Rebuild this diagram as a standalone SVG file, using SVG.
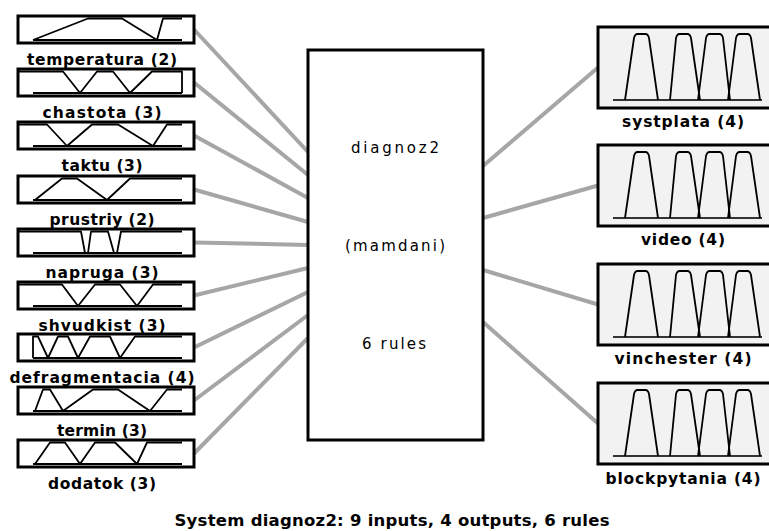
<svg xmlns="http://www.w3.org/2000/svg" xmlns:xlink="http://www.w3.org/1999/xlink" width="769" height="531" viewBox="0 0 769 531">
  <style>
    .box { fill: #ffffff; stroke: #000000; stroke-width: 3; }
    .obox { fill: #f2f2f2; stroke: #000000; stroke-width: 3; }
    .mf { fill: none; stroke: #000000; stroke-width: 1.8; stroke-linejoin: round; }
    .base { fill: none; stroke: #333333; stroke-width: 1.8; }
    .wire { stroke: #a6a6a6; stroke-width: 4; fill: none; }
    .lbl { font-family: "DejaVu Sans", "Liberation Sans", sans-serif; font-size: 15.5px; font-weight: bold; fill: #000000; text-anchor: middle; }
    .core { font-family: "DejaVu Sans", "Liberation Sans", sans-serif; font-size: 15px; fill: #000000; text-anchor: middle; }
    .cap { font-family: "DejaVu Sans", "Liberation Sans", sans-serif; font-size: 16.5px; font-weight: bold; fill: #000000; text-anchor: middle; }
  </style>
  <defs>
    <!-- four-term output membership plot, drawn relative to the box top -->
    <g id="outMF">
      <path class="base" d="M613,73 L762,73"/>
      <path class="mf" d="M625,73 L634,11 Q635,7 637.5,7 L645.5,7 Q648,7 649,11 L658,73"/>
      <path class="mf" d="M670,73 L676,11 Q677,7 679.5,7 L687.5,7 Q690,7 691,11 L700,73"/>
      <path class="mf" d="M698,73 L706,11 Q707,7 709.5,7 L719.5,7 Q722,7 723,11 L730,73"/>
      <path class="mf" d="M728,73 L736,11 Q737,7 739.5,7 L747.5,7 Q750,7 751,11 L760,73"/>
    </g>
  </defs>

  <rect x="0" y="0" width="769" height="531" fill="#ffffff"/>

  <!-- connectors -->
  <g id="connectors">
    <line class="wire" x1="194" y1="29.5" x2="308" y2="152"/>
    <line class="wire" x1="194" y1="82.5" x2="308" y2="175"/>
    <line class="wire" x1="194" y1="135.5" x2="308" y2="198"/>
    <line class="wire" x1="194" y1="189.5" x2="308" y2="222"/>
    <line class="wire" x1="194" y1="242.5" x2="308" y2="245"/>
    <line class="wire" x1="194" y1="295.5" x2="308" y2="268"/>
    <line class="wire" x1="194" y1="347.5" x2="308" y2="292"/>
    <line class="wire" x1="194" y1="400.5" x2="308" y2="315"/>
    <line class="wire" x1="194" y1="453.5" x2="308" y2="338"/>
    <line class="wire" x1="483" y1="166" x2="598" y2="67.5"/>
    <line class="wire" x1="483" y1="218" x2="598" y2="185.5"/>
    <line class="wire" x1="483" y1="270" x2="598" y2="304.5"/>
    <line class="wire" x1="483" y1="322" x2="598" y2="423.5"/>
  </g>

  <!-- inputs -->
  <g id="in-temperatura" transform="translate(0,16)">
    <rect class="box" x="18" y="0" width="176" height="27"/>
    <path class="mf" d="M33,24 L182,24 M33,24 L88,2.5 L122,2.5 L157,24 M157,24 L163,2.5 L182,2.5"/>
    <text class="lbl" x="102" y="49" textLength="150" lengthAdjust="spacing">temperatura (2)</text>
  </g>
  <g id="in-chastota" transform="translate(0,69)">
    <rect class="box" x="18" y="0" width="176" height="27"/>
    <path class="mf" d="M33,24 L182,24 M19,2.5 L63,2.5 L80,24 M80,24 L97,2.5 L113,2.5 L130,24 M130,24 L152,2.5 L182,2.5 L182,24"/>
    <text class="lbl" x="102" y="49" textLength="119" lengthAdjust="spacing">chastota (3)</text>
  </g>
  <g id="in-taktu" transform="translate(0,122)">
    <rect class="box" x="18" y="0" width="176" height="27"/>
    <path class="mf" d="M33,24 L182,24 M19,2.5 L47,2.5 L67,24 M67,24 L92,2.5 L118,2.5 L153,24 M153,24 L167,2.5 L182,2.5"/>
    <text class="lbl" x="102" y="49" textLength="81" lengthAdjust="spacing">taktu (3)</text>
  </g>
  <g id="in-prustriy" transform="translate(0,176)">
    <rect class="box" x="18" y="0" width="176" height="27"/>
    <path class="mf" d="M33,24 L182,24 M35,24 L62,2.5 L77,2.5 L107,24 M107,24 L130,2.5 L182,2.5"/>
    <text class="lbl" x="102" y="49" textLength="105" lengthAdjust="spacing">prustriy (2)</text>
  </g>
  <g id="in-napruga" transform="translate(0,229)">
    <rect class="box" x="18" y="0" width="176" height="27"/>
    <path class="mf" d="M33,24 L182,24 M19,2.5 L81,2.5 L85,24 M88,24 L91,2.5 L108,2.5 L114,24 M117,24 L121,2.5 L182,2.5"/>
    <text class="lbl" x="102" y="49" textLength="113" lengthAdjust="spacing">napruga (3)</text>
  </g>
  <g id="in-shvudkist" transform="translate(0,282)">
    <rect class="box" x="18" y="0" width="176" height="27"/>
    <path class="mf" d="M33,24 L182,24 M19,2.5 L62,2.5 L78,24 M78,24 L95,2.5 L120,2.5 L137,24 M137,24 L153,2.5 L182,2.5"/>
    <text class="lbl" x="102" y="49" textLength="127" lengthAdjust="spacing">shvudkist (3)</text>
  </g>
  <g id="in-defragmentacia" transform="translate(0,334)">
    <rect class="box" x="18" y="0" width="176" height="27"/>
    <path class="mf" d="M33,24 L182,24 M33,24 L33,2.5 L38,2.5 L48,24 M48,24 L58,2.5 L68,2.5 L78,24 M78,24 L90,2.5 L110,2.5 L120,24 M120,24 L135,2.5 L182,2.5"/>
    <text class="lbl" x="102" y="49" textLength="185" lengthAdjust="spacing">defragmentacia (4)</text>
  </g>
  <g id="in-termin" transform="translate(0,387)">
    <rect class="box" x="18" y="0" width="176" height="27"/>
    <path class="mf" d="M33,24 L182,24 M35,24 L43,2.5 L50,2.5 L63,24 M63,24 L93,2.5 L118,2.5 L150,24 M150,24 L167,2.5 L182,2.5"/>
    <text class="lbl" x="102" y="49" textLength="90" lengthAdjust="spacing">termin (3)</text>
  </g>
  <g id="in-dodatok" transform="translate(0,440)">
    <rect class="box" x="18" y="0" width="176" height="27"/>
    <path class="mf" d="M33,24 L182,24 M35,24 L50,2.5 L65,2.5 L80,24 M80,24 L95,2.5 L115,2.5 L137,24 M137,24 L147,2.5 L182,2.5"/>
    <text class="lbl" x="102" y="49" textLength="108" lengthAdjust="spacing">dodatok (3)</text>
  </g>

  <!-- inference system -->
  <g id="system">
    <rect class="box" x="308" y="50" width="175" height="390"/>
    <text class="core" x="395" y="153" textLength="88" lengthAdjust="spacing">diagnoz2</text>
    <text class="core" x="395" y="251" textLength="100" lengthAdjust="spacing">(mamdani)</text>
    <text class="core" x="394" y="349" textLength="64" lengthAdjust="spacing">6 rules</text>
  </g>

  <!-- outputs -->
  <g id="out-systplata">
    <rect class="obox" x="598" y="27" width="176" height="81"/>
    <use xlink:href="#outMF" href="#outMF" transform="translate(0,27)"/>
    <text class="lbl" x="683" y="127" textLength="122" lengthAdjust="spacing">systplata (4)</text>
  </g>
  <g id="out-video">
    <rect class="obox" x="598" y="145" width="176" height="81"/>
    <use xlink:href="#outMF" href="#outMF" transform="translate(0,145)"/>
    <text class="lbl" x="683" y="245" textLength="84" lengthAdjust="spacing">video (4)</text>
  </g>
  <g id="out-vinchester">
    <rect class="obox" x="598" y="264" width="176" height="81"/>
    <use xlink:href="#outMF" href="#outMF" transform="translate(0,264)"/>
    <text class="lbl" x="683" y="364" textLength="137" lengthAdjust="spacing">vinchester (4)</text>
  </g>
  <g id="out-blockpytania">
    <rect class="obox" x="598" y="383" width="176" height="81"/>
    <use xlink:href="#outMF" href="#outMF" transform="translate(0,383)"/>
    <text class="lbl" x="683" y="484" textLength="155" lengthAdjust="spacing">blockpytania (4)</text>
  </g>

  <text class="cap" x="392" y="526" textLength="435" lengthAdjust="spacing">System diagnoz2: 9 inputs, 4 outputs, 6 rules</text>
</svg>
